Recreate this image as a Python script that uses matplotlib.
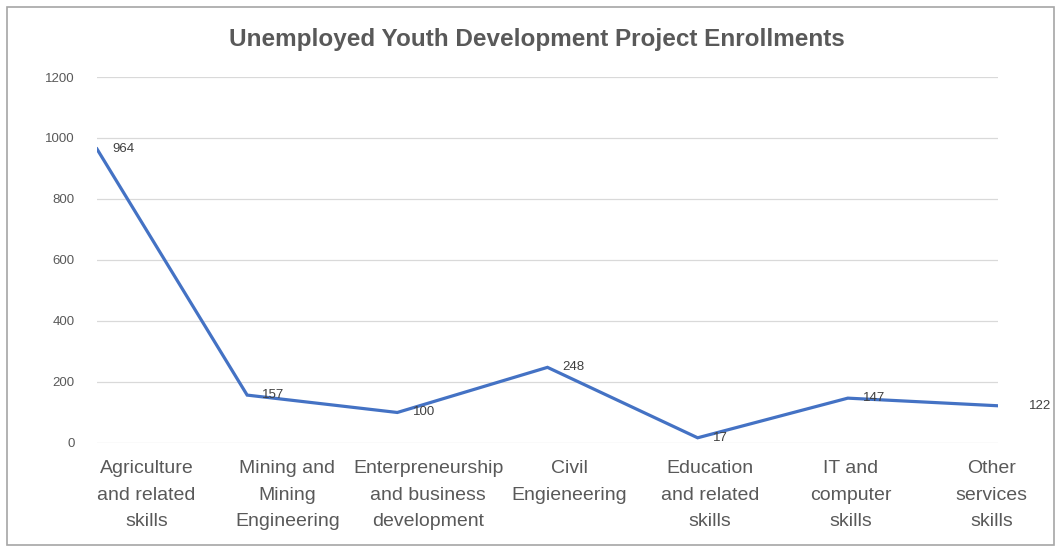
import matplotlib.pyplot as plt
from matplotlib.patches import Rectangle

categories = [
    "Agriculture\nand related\nskills",
    "Mining and\nMining\nEngineering",
    "Enterpreneurship\nand business\ndevelopment",
    "Civil\nEngieneering",
    "Education\nand related\nskills",
    "IT and\ncomputer\nskills",
    "Other\nservices\nskills",
]
enrollments = [964, 157, 100, 248, 17, 147, 122]
y_ticks = [0, 200, 400, 600, 800, 1000, 1200]

plt.rcParams['font.family'] = ['Liberation Sans', 'DejaVu Sans']

fig = plt.figure(figsize=(10.61, 5.52), dpi=100)
ax = fig.add_axes([0.0914, 0.1975, 0.8492, 0.663])

x = list(range(len(categories)))
ax.plot(x, enrollments, color='#4472C4', lw=2.3, solid_joinstyle='miter', zorder=3)

# value labels to the right of each point
for i, v in enumerate(enrollments):
    dx = 22 if i == len(enrollments) - 1 else 11
    ax.annotate(str(v), (i, v), xytext=(dx, 0), textcoords='offset points',
                ha='left', va='center', fontsize=9.5, color='#404040',
                annotation_clip=False, zorder=4)

ax.set_xlim(0, len(categories) - 1)
ax.set_ylim(0, 1200)
ax.set_yticks(y_ticks)
ax.set_yticklabels([str(t) for t in y_ticks], fontsize=9.5, color='#595959')
ax.tick_params(axis='y', length=0, pad=16)
ax.set_xticks([])
ax.grid(axis='y', color='#d9d9d9', lw=0.9)
ax.set_axisbelow(True)
for s in ax.spines.values():
    s.set_visible(False)

# category names under the axis, spread a little wider than the points
for i, name in enumerate(categories):
    ax.text(0.33 + i * 0.938, -57, name, ha='center', va='top',
            fontsize=14, color='#595959', linespacing=1.72, clip_on=False)

fig.text(0.506, 0.928, "Unemployed Youth Development Project Enrollments",
         ha='center', va='center', fontsize=17.5, fontweight='bold', color='#595959')

fig.patches.append(Rectangle((7 / 1061, 7 / 552), 1047 / 1061, 538 / 552,
                             transform=fig.transFigure, fill=False,
                             edgecolor='#a6a6a6', lw=1.2))

fig.savefig('out.png', dpi=100)
